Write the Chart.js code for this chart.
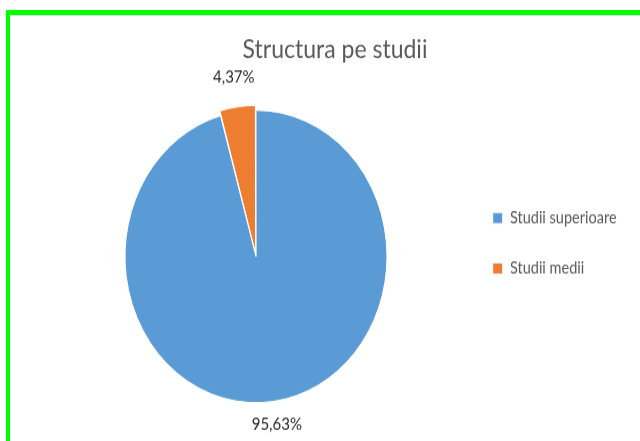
<!DOCTYPE html>
<html>
<head>
<meta charset="utf-8">
<script src="https://cdn.jsdelivr.net/npm/chart.js@4.4.1/dist/chart.umd.min.js"></script>
<style>
    html, body { margin: 0; padding: 0; background: #fff; }
    body { width: 640px; height: 441px; position: relative; overflow: hidden; }
    /* the original picture is stretched vertically, so the chart is drawn at 640x395 and scaled */
    #wrap { position: absolute; left: 0; top: 0; width: 640px; height: 395px;
            transform: scaleY(1.11646); transform-origin: 0 0; }
    #borderTop { position: absolute; left: 6px; top: 10px; width: 634px; height: 5px; background: #00ff00; }
    #borderLeft { position: absolute; left: 6px; top: 10px; width: 4px; height: 431px; background: #00ff00; }
    #innerLine { position: absolute; left: 10px; top: 15px; width: 630px; height: 1px; background: #dcdcdc; }
</style>
</head>
<body>
<div id="wrap"><canvas id="pieStudii"></canvas></div>
<div id="innerLine"></div>
<div id="borderTop"></div>
<div id="borderLeft"></div>
<script>
// donnees du graphique
const categories = ['Studii superioare', 'Studii medii'];
const valori = [95.63, 4.37];
const etichete = ['95,63%', '4,37%'];
const culori = ['#5B9BD5', '#ED7D31'];
const titlu = 'Structura pe studii';

Chart.defaults.font.family = 'Lato';

// petit plugin pour ecrire les pourcentages a l'exterieur des parts
const labelsExterieur = {
    id: 'labelsExterieur',
    afterDatasetsDraw(chart) {
        const ctx = chart.ctx;
        const meta = chart.getDatasetMeta(0);
        ctx.save();
        ctx.font = '15px Lato';
        ctx.fillStyle = '#262626';
        ctx.textAlign = 'center';
        ctx.textBaseline = 'middle';
        meta.data.forEach((arc, i) => {
            const p = arc.getProps(['x', 'y', 'startAngle', 'endAngle', 'outerRadius'], true);
            const mid = (p.startAngle + p.endAngle) / 2;
            const r = p.outerRadius + (arc.options.offset || 0) + 21;
            ctx.fillText(etichete[i], p.x + Math.cos(mid) * r, p.y + Math.sin(mid) * r);
        });
        ctx.restore();
    }
};

function loadPieChart(id) {
    let ctx = document.getElementById(id).getContext('2d');
    return new Chart(ctx, {
        type: 'pie',
        data: {
            labels: categories,
            datasets: [{
                data: valori,
                backgroundColor: culori,
                borderColor: '#ffffff',
                borderWidth: 1,
                offset: [0, 10],
                clip: false
            }]
        },
        options: {
            responsive: true,
            maintainAspectRatio: false,
            animation: false,
            radius: 131,
            layout: { padding: { left: 50, right: 20, top: 0, bottom: 92.9 } },
            plugins: {
                title: {
                    display: true,
                    text: titlu,
                    color: '#595959',
                    font: { size: 23, weight: 'normal' },
                    padding: { top: 31.2, bottom: 98.5 }
                },
                legend: {
                    position: 'right',
                    align: 'start',
                    fullSize: false,
                    maxWidth: 158,
                    labels: {
                        color: '#595959',
                        font: { size: 14.5 },
                        boxWidth: 10,
                        boxHeight: 10,
                        padding: 30.7
                    }
                },
                tooltip: { enabled: false }
            }
        },
        plugins: [labelsExterieur]
    });
}

loadPieChart('pieStudii');
</script>
</body>
</html>
